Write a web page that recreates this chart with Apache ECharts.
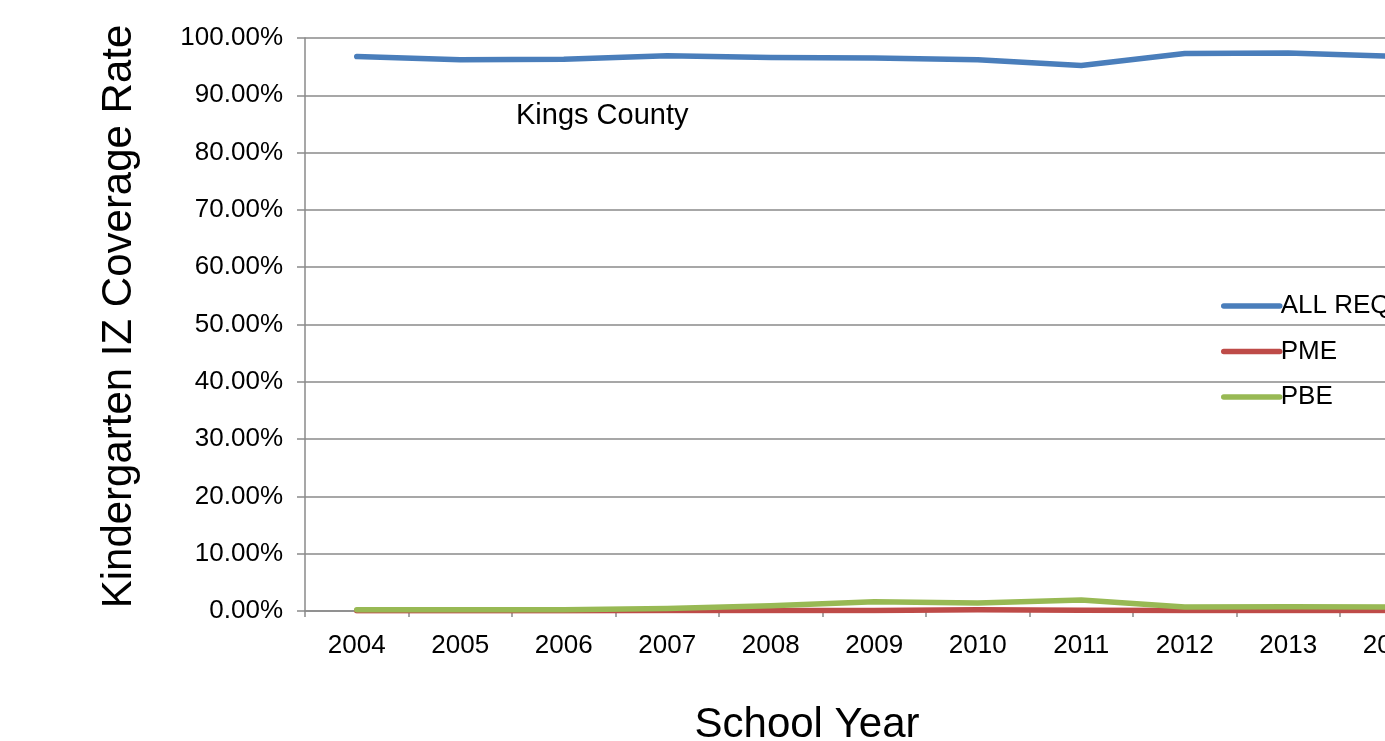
<!DOCTYPE html>
<html lang="en">
<head>
    <meta charset="UTF-8">
    <title>Kings County</title>
    <style>
        html, body { margin: 0; padding: 0; overflow: hidden; background: #fff; width: 1385px; height: 741px; }
        #main { width: 1500px; height: 741px; }
    </style>
</head>
<body>
<div id="main"></div>
<script src="https://cdn.jsdelivr.net/npm/echarts@6/dist/echarts.min.js"></script>
<script>
    let years = ['2004', '2005', '2006', '2007', '2008', '2009', '2010', '2011', '2012', '2013', '2014'];
    let allReq = [96.75, 96.2, 96.3, 96.9, 96.6, 96.5, 96.2, 95.2, 97.3, 97.4, 96.8];
    let pme = [0.05, 0.05, 0.05, 0.1, 0.1, 0.1, 0.2, 0.15, 0.1, 0.1, 0.1];
    let pbe = [0.2, 0.2, 0.2, 0.45, 0.9, 1.6, 1.4, 1.9, 0.7, 0.75, 0.7];
    let yTicks = { min: 0, max: 100, interval: 10 };

    let font = 'Liberation Sans, Arial, sans-serif';
    let gridColor = '#8a8a8a';
    let myChart = echarts.init(document.getElementById('main'));

    function lineSeries(name, data, color) {
        return {
            name: name,
            type: 'line',
            data: data,
            symbol: 'none',
            smooth: false,
            lineStyle: { color: color, width: 5.5, cap: 'round', join: 'round' },
            itemStyle: { color: color }
        }
    }

    // plot runs past the right edge of the window, like the original
    let option = {
        backgroundColor: '#fff',
        animation: false,
        textStyle: { fontFamily: font },
        grid: { left: 305, top: 38, bottom: 130, right: 56.5 },
        legend: {
            orient: 'vertical',
            left: 1216,
            top: 288,
            itemWidth: 56,
            itemHeight: 26,
            itemGap: 19.5,
            itemStyle: { opacity: 0 },
            lineStyle: { width: 5.5, cap: 'round' },
            textStyle: { fontSize: 26, color: '#000', lineHeight: 26, padding: [0, 0, 0, -4] },
            data: ['ALL REQ', 'PME', 'PBE']
        },
        xAxis: {
            type: 'category',
            data: years,
            boundaryGap: true,
            axisLine: { lineStyle: { color: gridColor, width: 1.5 } },
            axisTick: { show: true, length: 6, lineStyle: { color: gridColor, width: 1.5 } },
            axisLabel: { color: '#000', fontSize: 26, margin: 22, fontFamily: font },
            splitLine: { show: false }
        },
        yAxis: {
            type: 'value',
            min: yTicks.min,
            max: yTicks.max,
            interval: yTicks.interval,
            name: 'Kindergarten IZ Coverage Rate',
            nameLocation: 'middle',
            nameRotate: 90,
            nameGap: 165,
            nameTextStyle: { fontSize: 42, color: '#000', fontFamily: font, padding: [0, 0, 0, 16] },
            axisLine: { show: true, lineStyle: { color: gridColor, width: 1.5 } },
            axisTick: { show: true, length: 8, lineStyle: { color: gridColor, width: 1.5 } },
            axisLabel: {
                color: '#000', fontSize: 26, margin: 22, fontFamily: font,
                formatter: function (v) { return v.toFixed(2) + '%'; }
            },
            splitLine: { show: true, lineStyle: { color: gridColor, width: 1.5 } }
        },
        graphic: [
            {
                type: 'text', left: 516, top: 101,
                style: { text: 'Kings County', fontSize: 29, fill: '#000', fontFamily: font }
            },
            {
                type: 'text', x: 807, y: 725,
                style: { text: 'School Year', fontSize: 42, fill: '#000', fontFamily: font, align: 'center', verticalAlign: 'middle' }
            }
        ],
        series: [
            lineSeries('ALL REQ', allReq, '#4a7ebb'),
            lineSeries('PME', pme, '#be4b48'),
            lineSeries('PBE', pbe, '#98b954')
        ]
    };
    myChart.setOption(option);
</script>
</body>
</html>
